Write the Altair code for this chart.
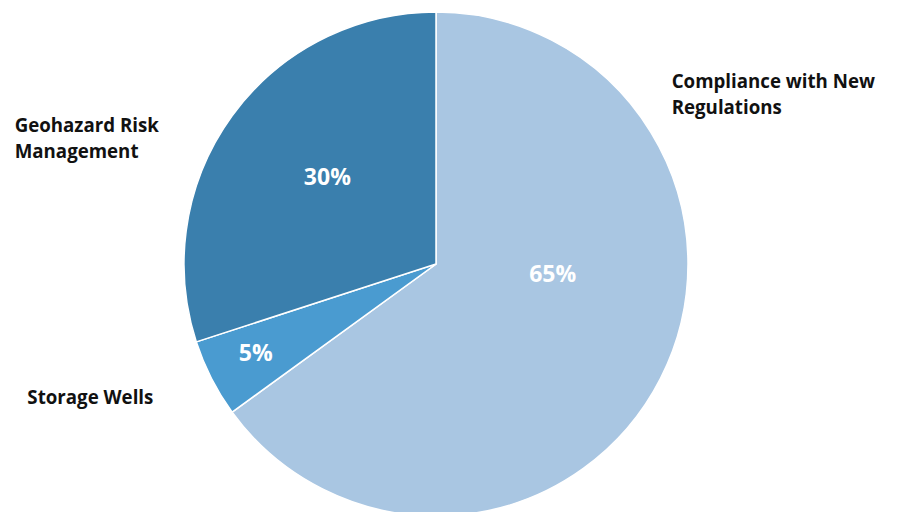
import altair as alt
import pandas as pd

categories = ["Compliance with New Regulations", "Storage Wells", "Geohazard Risk Management"]
label_lines = ["Compliance with New\nRegulations", "Storage Wells", "Geohazard Risk\nManagement"]
values = [65, 5, 30]
pct_labels = ["65%", "5%", "30%"]
colors = ["#A9C6E2", "#4A9BD0", "#3A7FAD"]

df = pd.DataFrame({
    "category": categories,
    "label": label_lines,
    "value": values,
    "pct": pct_labels,
    "order": list(range(len(categories))),
})

CX, CY, R = 428, 256, 252

pie = alt.Chart(df).mark_arc(outerRadius=R, stroke="white", strokeWidth=1.5).encode(
    theta=alt.Theta("value:Q", stack=True),
    order=alt.Order("order:Q"),
    x=alt.value(CX),
    y=alt.value(CY),
    color=alt.Color("category:N", scale=alt.Scale(domain=categories, range=colors), legend=None),
)

FONT = "Open Sans"

def label_layer(cat, text_field, radius, dx, dy, align, baseline, size, color):
    return alt.Chart(df).transform_stack(
        stack="value", groupby=[], as_=["v0", "v1"], sort=[alt.SortField("order")]
    ).transform_calculate(
        mid="(datum.v0 + datum.v1) / 2"
    ).transform_filter(alt.datum.category == cat).mark_text(
        radius=radius, dx=dx, dy=dy, align=align, baseline=baseline,
        font=FONT, fontWeight="bold", fontSize=size, color=color,
        lineBreak="\n", lineHeight=26,
    ).encode(
        theta=alt.Theta("mid:Q", scale=alt.Scale(domain=[0, sum(values)], range=[0, 6.283185307179586])),
        x=alt.value(CX),
        y=alt.value(CY),
        text=alt.Text(text_field + ":N"),
    )

layers = [
    pie,
    label_layer(categories[0], "pct", 131, 0, -48, "center", "middle", 23, "white"),
    label_layer(categories[2], "pct", 138, 3, -5, "center", "middle", 23, "white"),
    label_layer(categories[1], "pct", 200, -2, -1, "center", "middle", 23, "white"),
    label_layer(categories[0], "label", 260, 4, -309, "left", "top", 18.7, "#111111"),
    label_layer(categories[2], "label", 260, -211, 6, "left", "top", 18.7, "#111111"),
    label_layer(categories[1], "label", 260, -177, 16, "left", "middle", 18.7, "#111111"),
]

chart = alt.layer(*layers).properties(
    width=889, height=504, padding=0, background="white",
    autosize=alt.AutoSizeParams(type="none"),
).configure_view(stroke=None, strokeWidth=0)

chart.save("out.html", embed_options={"renderer": "svg", "actions": False})
